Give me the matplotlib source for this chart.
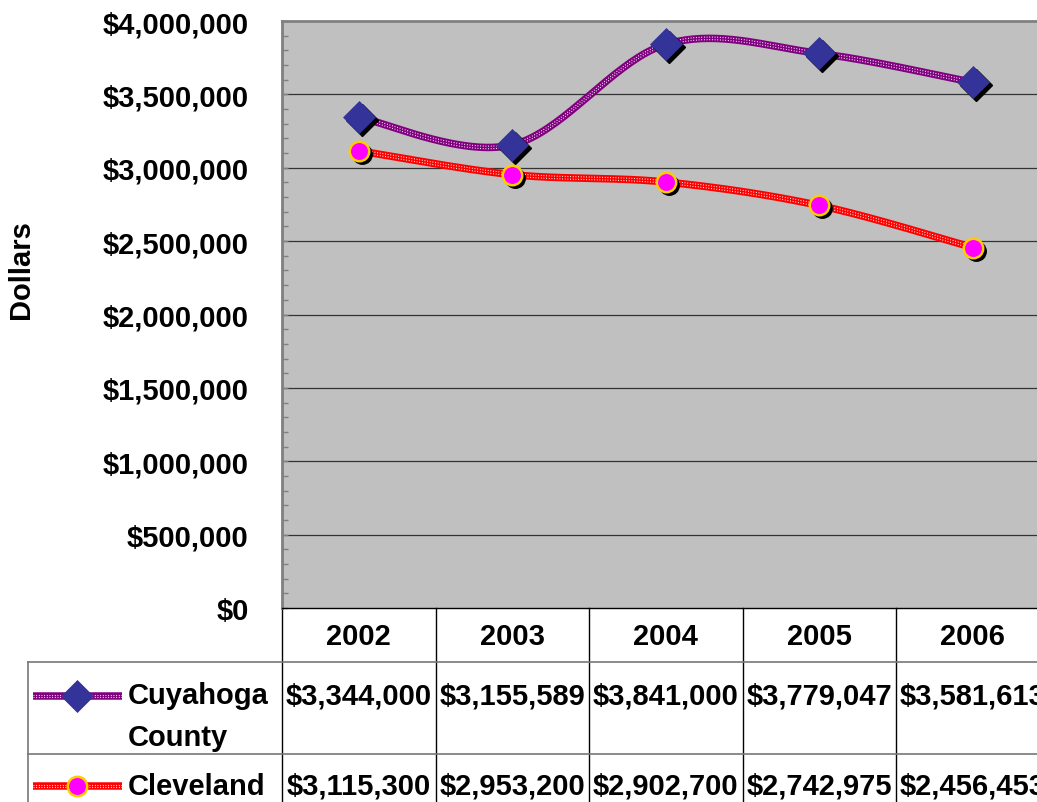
import numpy as np
import matplotlib.pyplot as plt
import matplotlib.transforms as mtransforms
from matplotlib.ticker import MultipleLocator, FuncFormatter

years = ['2002', '2003', '2004', '2005', '2006']
cuyahoga = [3344000, 3155589, 3841000, 3779047, 3581613]
cleveland = [3115300, 2953200, 2902700, 2742975, 2456453]
series_names = ['Cuyahoga\nCounty', 'Cleveland']

W, H = 1037, 803
plt.rcParams['font.family'] = ['Liberation Sans', 'DejaVu Sans']
plt.rcParams['font.weight'] = 'bold'
FS = 21


def smooth(vals, n=40):
    # excel style smoothed line (bezier through the points)
    y = np.asarray(vals, float)
    pts = np.column_stack([np.arange(len(y), dtype=float), y])
    out = []
    for i in range(len(pts) - 1):
        p0 = pts[max(i - 1, 0)]
        p1, p2 = pts[i], pts[i + 1]
        p3 = pts[min(i + 2, len(pts) - 1)]
        c1 = p1 + (p2 - p0) / 6
        c2 = p2 - (p3 - p1) / 6
        t = np.linspace(0, 1, n)[:, None]
        seg = (1 - t)**3 * p1 + 3 * (1 - t)**2 * t * c1 + 3 * (1 - t) * t**2 * c2 + t**3 * p2
        out.append(seg if i == 0 else seg[1:])
    s = np.vstack(out)
    return s[:, 0], s[:, 1]


def fx(px):
    return px / W


def textured(ax, xs, ys, color, trans, **kw):
    # thick line with a white dotted pattern on it
    ax.plot(xs, ys, color=color, lw=5.4, solid_capstyle='butt', transform=trans, **kw)
    for dy in (-1.3, 1.3):
        t = mtransforms.offset_copy(trans, fig=fig, x=0, y=dy, units='dots')
        ax.plot(xs, ys, color='white', lw=0.8, ls=(0, (0.8, 1.6)), transform=t, **kw)


fig = plt.figure(figsize=(W / 100, H / 100), dpi=100)
fig.patch.set_facecolor('white')
ax = fig.add_axes([282 / W, (H - 609) / H, 767.5 / W, 587 / H])
ax.set_facecolor('#C0C0C0')
ax.set_xlim(-0.5, 4.5)
ax.set_ylim(0, 4000000)
ax.set_autoscale_on(False)

for v in np.arange(500000, 4000000, 500000):
    ax.axhline(v, color='#333333', lw=0.9, zorder=1)

ax.yaxis.set_major_locator(MultipleLocator(500000))
ax.yaxis.set_minor_locator(MultipleLocator(100000))
ax.yaxis.set_major_formatter(FuncFormatter(lambda v, p: f"${v:,.0f}"))
ax.tick_params(axis='y', which='both', direction='in', length=4, color='#808080', width=1)
ax.tick_params(axis='y', which='major', pad=24, labelsize=FS)
ax.set_xticks([])
for t in ax.get_yticklabels():
    t.set_fontweight('bold')

ax.spines['left'].set_color('#808080')
ax.spines['left'].set_linewidth(2)
ax.spines['top'].set_color('#808080')
ax.spines['top'].set_linewidth(2)
ax.spines['right'].set_visible(False)
ax.spines['bottom'].set_color('black')
ax.spines['bottom'].set_linewidth(1)

ax.set_ylabel('Dollars', fontsize=FS, fontweight='bold')
ax.yaxis.set_label_coords(-0.322, 0.578)

x = np.arange(len(years))
shadow = mtransforms.offset_copy(ax.transData, fig=fig, x=3, y=-3, units='dots')

styles = [
    dict(color='#800080', marker='D', ms=16, mfc='#333399', mec='#333399', mew=0.5),
    dict(color='#FF0000', marker='o', ms=14, mfc='#FF00FF', mec='#FFCC00', mew=1.8),
]

for vals, st in zip([cuyahoga, cleveland], styles):
    xs, ys = smooth(vals)
    textured(ax, xs, ys, st['color'], ax.transData, zorder=3)
    ax.plot(x, vals, ls='none', marker=st['marker'], ms=st['ms'], mfc='black', mec='black',
            transform=shadow, zorder=5)
    ax.plot(x, vals, ls='none', marker=st['marker'], ms=st['ms'], mfc=st['mfc'],
            mec=st['mec'], mew=st['mew'], zorder=6)

# data table under the plot
bt = mtransforms.blended_transform_factory(ax.transData, ax.transAxes)
ft = mtransforms.blended_transform_factory(fig.transFigure, ax.transAxes)


def ay(py):
    return -(py - 609) / 587


for b in np.arange(len(years) + 1) - 0.5:
    ax.plot([b, b], [0, ay(810)], transform=bt, color='black', lw=1, clip_on=False)
ax.plot([fx(28), fx(28)], [ay(663), ay(810)], transform=ft, color='#777777', lw=1.2, clip_on=False)
for py in [663, 755]:
    ax.plot([fx(28), 1.0], [ay(py), ay(py)], transform=ft, color='#777777', lw=1.2, clip_on=False)

for i, yr in enumerate(years):
    ax.text(i, ay(637), yr, transform=bt, ha='center', va='center', fontsize=FS, fontweight='bold')

row_y = [697, 787]
for r, (vals, st, name) in enumerate(zip([cuyahoga, cleveland], styles, series_names)):
    for i, v in enumerate(vals):
        ax.text(i, ay(row_y[r]), f"${v:,}", transform=bt, ha='center', va='center',
                fontsize=FS, fontweight='bold')
    ky = ay(row_y[r])
    textured(ax, [fx(33), fx(122)], [ky, ky], st['color'], ft, clip_on=False)
    ax.plot([fx(77)], [ky], transform=ft, ls='none', marker=st['marker'], ms=st['ms'],
            mfc=st['mfc'], mec=st['mec'], mew=st['mew'], clip_on=False)
    if '\n' in name:
        ax.text(fx(128), ay(717), name, transform=ft, ha='left', va='center',
                fontsize=FS, fontweight='bold', linespacing=1.65)
    else:
        ax.text(fx(128), ky, name, transform=ft, ha='left', va='center',
                fontsize=FS, fontweight='bold')

fig.savefig('out.png', dpi=100)
